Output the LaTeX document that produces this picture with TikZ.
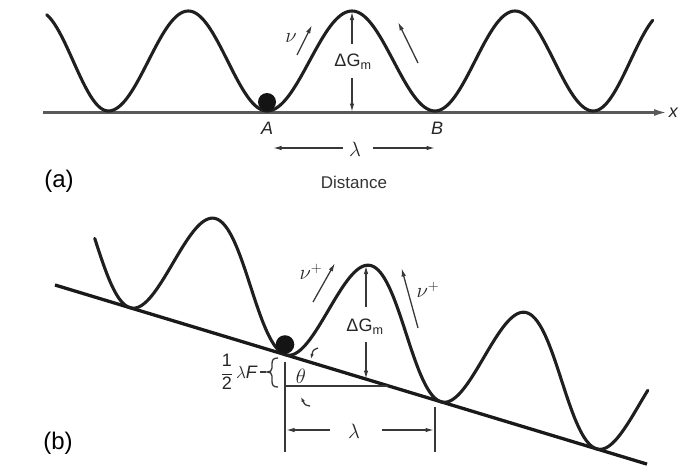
\documentclass[tikz,border=0pt]{standalone}
\usepackage{fontspec}
\setmainfont{Liberation Sans}
\usetikzlibrary{arrows.meta}
\begin{document}
\begin{tikzpicture}[x=1pt,y=-1pt,
  wave/.style={line width=3.1pt, color=black!88, line join=round, line cap=round},
  axisline/.style={line width=2.3pt, color=black!65},
  slopeline/.style={line width=3.3pt, color=black!90},
  thinline/.style={line width=1.3pt, color=black!78},
  tip/.style={-{Latex[length=8.5pt,width=4.5pt]}},
  smalltip/.style={-{Latex[length=5pt,width=3.5pt]}},
  lbl/.style={font=\fontsize{18}{21}\selectfont, inner sep=0pt, text=black!85},
  glbl/.style={font=\fontsize{20.5}{24}\selectfont, inner sep=0pt, text=black!85},
  plabel/.style={font=\fontsize{24}{28}\selectfont, inner sep=0pt},
  declare function={Hb(\u)=50*(1-cos(\u*2.222222));
                    xb(\u)=130+0.96*\u+0.08*Hb(\u);
                    yb(\u)=285+0.3025*(xb(\u)-55)-1.15*Hb(\u);}
]
\useasboundingbox (0,0) rectangle (679,466);

% ---------------- (a) ----------------
\coordinate (ax0) at (43,112.5);
\coordinate (ax1) at (667,112.5);
\draw[axisline, -{Latex[length=13pt,width=7pt]}] (ax0) -- (ax1);
\node[lbl, anchor=east] (xl) at (678.5,112.5) {\textit{x}};

\draw[wave]
  plot[domain=22.3:180,samples=25,variable=\s] ({38+70.3*\s/180},{61-50*cos(\s)})
  -- plot[domain=0:180,samples=40,variable=\s] ({108.3+80*\s/180},{61+50*cos(\s)})
  -- plot[domain=0:180,samples=40,variable=\s] ({188.3+78.7*\s/180},{61-50*cos(\s)})
  -- plot[domain=0:180,samples=40,variable=\s] ({267+85*\s/180},{61+50*cos(\s)})
  -- plot[domain=0:180,samples=40,variable=\s] ({352+83*\s/180},{61-50*cos(\s)})
  -- plot[domain=0:180,samples=40,variable=\s] ({435+80*\s/180},{61+50*cos(\s)})
  -- plot[domain=0:180,samples=40,variable=\s] ({515+78.3*\s/180},{61-50*cos(\s)})
  -- plot[domain=0:144.5,samples=30,variable=\s] ({593.3+74*\s/180},{61+50*cos(\s)});

\fill[black!92] (267,102) circle[radius=9pt];

\node[glbl] (nua) at (291,38) {$\nu$};
\coordinate (nuas) at (297,55); \coordinate (nuae) at (312,25);
\draw[thinline,tip] (nuas) -- (nuae);
\coordinate (nubs) at (418,63); \coordinate (nube) at (398,22);
\draw[thinline,tip] (nubs) -- (nube);

\node[lbl] (dga) at (353,62) {ΔG\textsubscript{m}};
\coordinate (pka) at (352,11.5); \coordinate (bsa) at (352,112);
\coordinate (dgat) at (352,44); \coordinate (dgab) at (352,78);
\draw[thinline,tip] (dgat) -- (pka);
\draw[thinline,tip] (dgab) -- (bsa);

\node[lbl] (A) at (267,128) {\textit{A}};
\node[lbl] (B) at (437,128) {\textit{B}};
\node[glbl] (lama) at (355,149) {$\lambda$};
\coordinate (la1) at (273,148); \coordinate (la2) at (435,148);
\coordinate (la1s) at (343,148); \coordinate (la2s) at (373,148);
\draw[thinline,tip] (la1s) -- (la1);
\draw[thinline,tip] (la2s) -- (la2);

\node[plabel] (pa) at (59,181) {(a)};
\node[font=\fontsize{17}{20}\selectfont, inner sep=0pt, text=black!80] (dist) at (354,182) {Distance};

% ---------------- (b) ----------------
\coordinate (sl0) at (55,285);
\coordinate (sl1) at (647,464.1);
\draw[slopeline] (sl0) -- (sl1);

\draw[wave] plot[domain=-41:534,samples=400,variable=\u] ({xb(\u)},{yb(\u)});

\fill[black!92] (285,344.5) circle[radius=9.3pt];

\node[glbl] (nu1) at (311,272) {$\nu^+$};
\coordinate (n1s) at (313,302); \coordinate (n1e) at (335,263);
\draw[thinline,tip] (n1s) -- (n1e);
\node[glbl] (nu2) at (428,290) {$\nu^+$};
\coordinate (n2s) at (418,328); \coordinate (n2e) at (401.5,268);
\draw[thinline,tip] (n2s) -- (n2e);

\node[lbl] (dgb) at (365,327) {ΔG\textsubscript{m}};
\coordinate (pkb) at (366,265.5); \coordinate (bsb) at (366,379);
\coordinate (dgbt) at (366,307); \coordinate (dgbb) at (366,342);
\draw[thinline,tip] (dgbt) -- (pkb);
\draw[thinline,tip] (dgbb) -- (bsb);

\coordinate (v1t) at (285,362); \coordinate (v1b) at (285,452);
\coordinate (v2t) at (435,407); \coordinate (v2b) at (435,452);
\draw[thinline] (v1t) -- (v1b);
\draw[thinline] (v2t) -- (v2b);
\coordinate (h0) at (285,386); \coordinate (h1) at (388,386);
\draw[thinline] (h0) -- (h1);

\node[glbl] (th) at (301,376) {$\theta$};
\draw[thinline,smalltip] (318,348) .. controls (313,350) .. (311,359);
\draw[thinline,smalltip] (310,406) .. controls (305,405) .. (301,397);

\node[glbl] (lamb) at (354,431) {$\lambda$};
\coordinate (lb1) at (286,430); \coordinate (lb2) at (434,430);
\coordinate (lb1s) at (330,430); \coordinate (lb2s) at (382,430);
\draw[thinline,tip] (lb1s) -- (lb1);
\draw[thinline,tip] (lb2s) -- (lb2);

\node[lbl, anchor=east] (half) at (258,372) {$\displaystyle\frac{\mbox{1}}{\mbox{2}}$\,$\lambda$\textit{F}};
\draw[thinline] (278,358) .. controls (273,358) and (272,360) .. (272,364) -- (272,368)
  .. controls (272,371) and (270,372) .. (267,372)
  .. controls (270,372) and (272,373) .. (272,376) -- (272,381)
  .. controls (272,385) and (273,387) .. (278,387);
\draw[thinline] (260,372) -- (266,372);

\node[plabel] (pb) at (58,443) {(b)};
\end{tikzpicture}
\end{document}
